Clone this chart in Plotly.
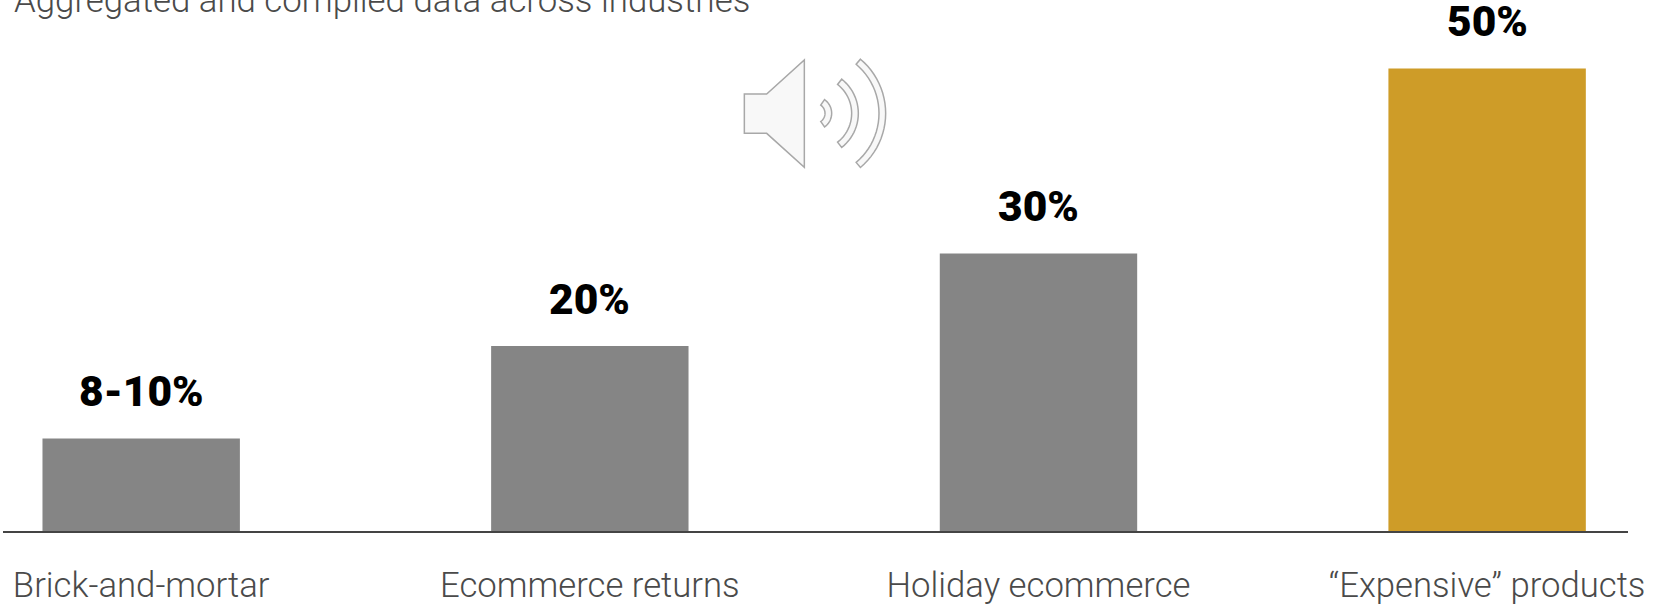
import math
import plotly.graph_objects as go

categories = ["Brick-and-mortar", "Ecommerce returns", "Holiday ecommerce", "“Expensive” products"]
values = [10, 20, 30, 50]
value_labels = ["8-10%", "20%", "30%", "50%"]
bar_colors = ["#858585", "#858585", "#858585", "#CE9C28"]
subtitle = "Aggregated and compiled data across industries"

W, H = 1654, 604
ML, MR, MT, MB = 3, 26, 0, 73
LABEL_FONT = "Roboto"
HEAVY_FONT = "Roboto"


def px(x):
    return (x - ML) / (W - ML - MR)


def py(y):
    return (H - MB - y) / (H - MB - MT)


def zx(X):
    return px(700 + X / 3)


def zy(Y):
    return py(30 + Y / 3)


def poly(pts):
    return "M " + " L ".join(f"{zx(a):.5f},{zy(b):.5f}" for a, b in pts) + " Z"


def arc_band(r_out, r_in, half_deg, cx=345, cy=250, n=24):
    angs = [math.radians(-half_deg + 2 * half_deg * k / n) for k in range(n + 1)]
    outer = [(cx + r_out * math.cos(a), cy + r_out * math.sin(a)) for a in angs]
    inner = [(cx + r_in * math.cos(a), cy + r_in * math.sin(a)) for a in reversed(angs)]
    return poly(outer + inner)


icon_style = dict(type="path", xref="paper", yref="paper", fillcolor="#F8F8F8",
                  line=dict(color="#A8A8A8", width=1.5), layer="above")
shapes = [
    dict(path=poly([(133, 192), (200, 192), (313, 90), (313, 412), (200, 310), (133, 310)]), **icon_style),
    dict(path=arc_band(50, 30, 55), **icon_style),
    dict(path=arc_band(130, 110, 52), **icon_style),
    dict(path=arc_band(212, 192, 50), **icon_style),
]

annotations = [
    dict(x=c, y=v, xref="x", yref="y", text=t, showarrow=False, xanchor="center", yanchor="bottom",
         yshift=20, font=dict(family=HEAVY_FONT, size=42.5, color="#000000", weight=900))
    for c, v, t in zip(categories, values, value_labels)
]
annotations.append(dict(x=px(12), y=py(0), xref="paper", yref="paper", text=subtitle, showarrow=False,
                        xanchor="left", yanchor="middle",
                        font=dict(family=LABEL_FONT, size=34.8, color="#4A4A4A", weight=300)))

fig = go.Figure(go.Bar(x=categories, y=values, width=0.44, marker=dict(color=bar_colors, line=dict(width=0))))
fig.update_layout(
    width=W, height=H, margin=dict(l=ML, r=MR, t=MT, b=MB, autoexpand=False),
    paper_bgcolor="white", plot_bgcolor="white", showlegend=False,
    shapes=shapes, annotations=annotations,
    xaxis=dict(type="category", range=[-0.308, 3.314], showline=True, linecolor="#444444", linewidth=2,
               showgrid=False, zeroline=False, ticks="outside", ticklen=22, tickcolor="rgba(0,0,0,0)",
               automargin=False,
               tickfont=dict(family=LABEL_FONT, size=34.7, color="#4A4A4A", weight=300)),
    yaxis=dict(range=[0, 57.4], visible=False, automargin=False),
)
fig.write_html("out.html", config=dict(displayModeBar=False),
               post_script="document.body.style.margin='0';document.body.style.overflow='hidden';")
